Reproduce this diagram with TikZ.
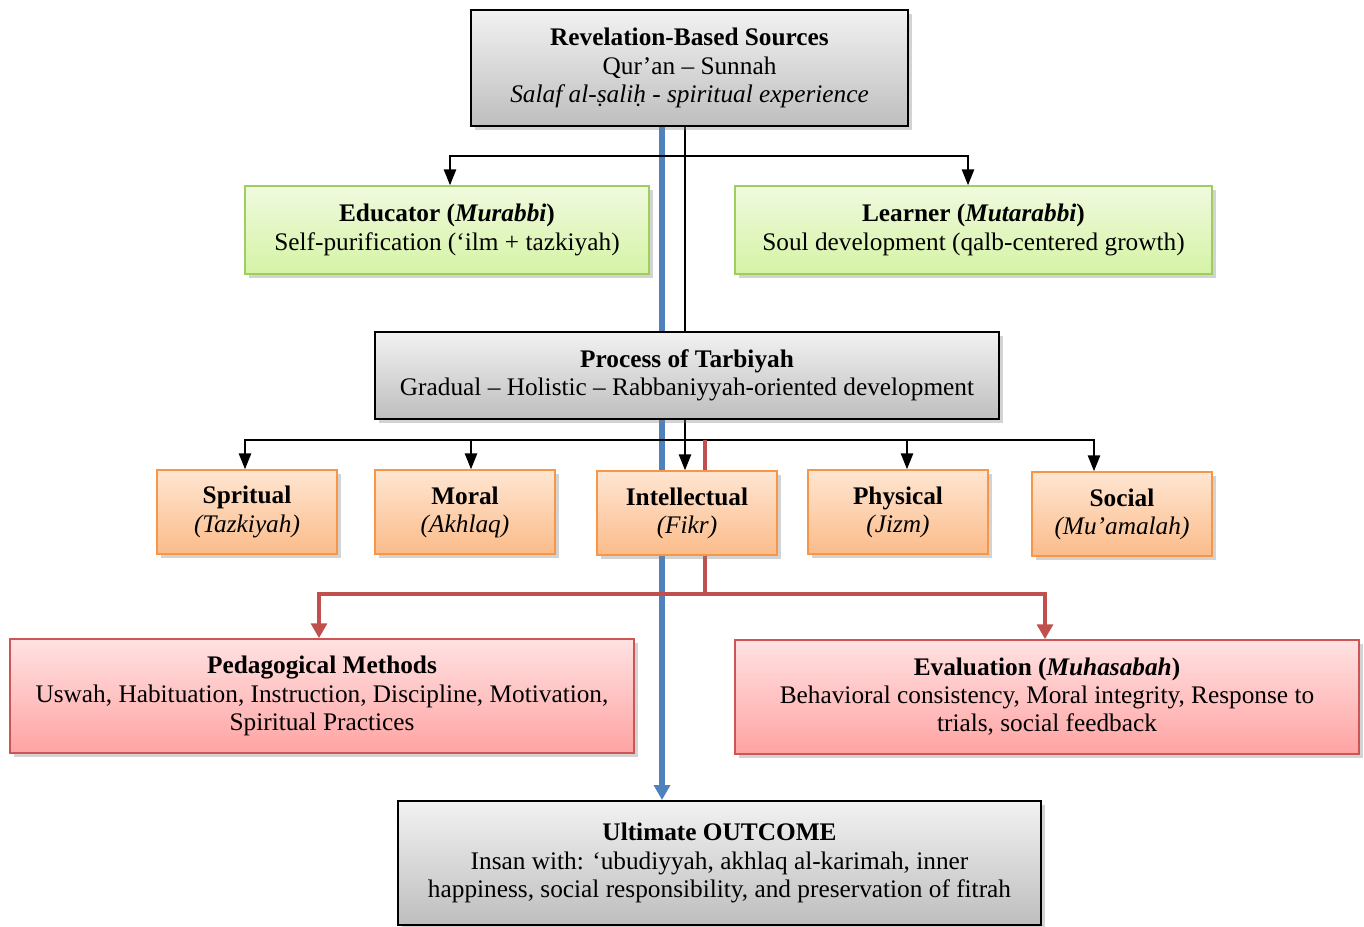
\documentclass[tikz,border=0pt]{standalone}
\usepackage{fontspec}
\setmainfont{Liberation Serif}
\usetikzlibrary{arrows.meta,shadows,backgrounds}

\definecolor{linkBlue}{RGB}{79,129,189}
\definecolor{linkRed}{RGB}{192,80,77}
\definecolor{grayTop}{RGB}{242,242,242}
\definecolor{grayBot}{RGB}{190,190,190}
\definecolor{greenTop}{RGB}{240,250,222}
\definecolor{greenBot}{RGB}{213,243,165}
\definecolor{greenEdge}{RGB}{160,205,95}
\definecolor{orangeTop}{RGB}{255,230,210}
\definecolor{orangeBot}{RGB}{251,188,138}
\definecolor{orangeEdge}{RGB}{247,150,70}
\definecolor{redTop}{RGB}{255,226,226}
\definecolor{redBot}{RGB}{255,163,163}
\definecolor{redEdge}{RGB}{205,85,85}

\begin{document}
\begin{tikzpicture}[>=stealth,
    every node/.style={font=\fontsize{14.4}{16}\selectfont},
    box/.style={draw, align=center, inner sep=2pt,
        drop shadow={shadow xshift=2pt, shadow yshift=-2pt, opacity=0.35}},
    grayBox/.style={box, top color=grayTop, bottom color=grayBot, draw=black, line width=1.1pt},
    greenBox/.style={box, top color=greenTop, bottom color=greenBot, draw=greenEdge, line width=0.9pt,
        minimum width=8.08cm, minimum height=1.76cm},
    dimBox/.style={box, top color=orangeTop, bottom color=orangeBot, draw=orangeEdge, line width=0.9pt,
        minimum width=3.6cm, minimum height=1.68cm},
    methBox/.style={box, top color=redTop, bottom color=redBot, draw=redEdge, line width=0.9pt,
        minimum width=12.48cm, minimum height=2.28cm},
    blackLink/.style={line width=0.9pt},
    blackArrow/.style={line width=0.9pt, -{Triangle[length=9pt,width=7pt]}},
    blueArrow/.style={linkBlue, line width=3pt, -{Triangle[length=8.5pt,width=9pt]}},
    redArrow/.style={linkRed, line width=2.8pt, -{Triangle[length=8.5pt,width=9pt]}}]

    \useasboundingbox (0,0) rectangle (27.28,-18.54);

    \node[grayBox, minimum width=8.74cm, minimum height=2.32cm] (src) at (13.79,-1.36)
        {\textbf{Revelation-Based Sources}\\ Qur’an – Sunnah\\ \textit{Salaf al-ṣaliḥ - spiritual experience}};

    \node[greenBox] (edu) at (8.94,-4.60)
        {\textbf{Educator (\textit{Murabbi})}\\ Self-purification (‘ilm + tazkiyah)};
    \node[greenBox, minimum width=9.54cm] (lrn) at (19.47,-4.60)
        {\textbf{Learner (\textit{Mutarabbi})}\\ Soul development (qalb-centered growth)};

    \node[grayBox, minimum width=12.48cm, minimum height=1.74cm] (proc) at (13.74,-7.51)
        {\textbf{Process of Tarbiyah}\\ Gradual – Holistic – Rabbaniyyah-oriented development};

    \node[dimBox] (spir) at (4.94,-10.24) {\textbf{Spritual}\\ \textit{(Tazkiyah)}};
    \node[dimBox] (moral) at (9.30,-10.24) {\textbf{Moral}\\ \textit{(Akhlaq)}};
    \node[dimBox] (intel) at (13.74,-10.26) {\textbf{Intellectual}\\ \textit{(Fikr)}};
    \node[dimBox] (phys) at (17.96,-10.24) {\textbf{Physical}\\ \textit{(Jizm)}};
    \node[dimBox] (soc) at (22.44,-10.28) {\textbf{Social}\\ \textit{(Mu’amalah)}};

    \node[methBox] (ped) at (6.44,-13.92)
        {\textbf{Pedagogical Methods}\\ Uswah, Habituation, Instruction, Discipline, Motivation,\\ Spiritual Practices};
    \node[methBox] (eval) at (20.94,-13.94)
        {\textbf{Evaluation (\textit{Muhasabah})}\\ Behavioral consistency, Moral integrity, Response to\\ trials, social feedback};

    \node[grayBox, minimum width=12.86cm, minimum height=2.48cm] (out) at (14.39,-17.26)
        {\textbf{Ultimate OUTCOME}\\ Insan with: ‘ubudiyyah, akhlaq al-karimah, inner\\ happiness, social responsibility, and preservation of fitrah};

    \coordinate (bx) at (13.24,0);
    \coordinate (kx) at (13.70,0);
    \coordinate (rx) at (14.10,0);
    \coordinate (split1) at (13.70,-3.12);
    \coordinate (split2) at (13.70,-8.80);
    \coordinate (redTopPt) at (14.10,-8.80);
    \coordinate (redMid) at (14.10,-11.88);

    \begin{scope}[on background layer]
        \draw[blueArrow] (src.south -| bx) -- (out.north -| bx);

        \draw[blackLink] (src.south -| kx) -- (proc.north -| kx);
        \draw[blackArrow] (split1) -| (edu.north -| 9.00,0);
        \draw[blackArrow] (split1) -| (lrn.north -| 19.36,0);

        \draw[blackLink] (proc.south -| kx) -- (split2);
        \draw[blackArrow] (split2) -| (spir.north -| 4.90,0);
        \draw[blackArrow] (split2) -| (moral.north -| 9.42,0);
        \draw[blackArrow] (split2) -- (intel.north -| kx);
        \draw[blackArrow] (split2) -| (phys.north -| 18.14,0);
        \draw[blackArrow] (split2) -| (soc.north -| 21.88,0);

        \draw[linkRed, line width=2.8pt] (redTopPt) -- (redMid);
        \draw[redArrow] (redMid) -| (ped.north -| 6.38,0);
        \draw[redArrow] (redMid) -| (eval.north -| 20.90,0);
    \end{scope}
\end{tikzpicture}
\end{document}
